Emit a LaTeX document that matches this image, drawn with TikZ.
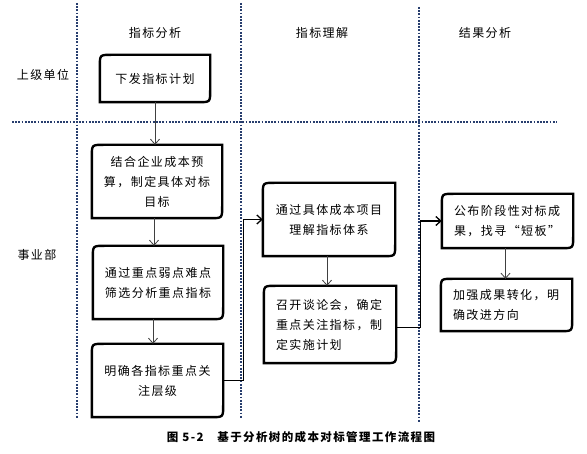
\documentclass[tikz,border=0pt]{standalone}
\usepackage{fontspec}
\setmainfont{Noto Sans CJK SC}[LetterSpace=12]
\usetikzlibrary{arrows.meta}
\definecolor{lanecol}{RGB}{40,62,110}
\tikzset{
  lane/.style={color=lanecol,line width=2.2pt,dash pattern=on 1.8pt off 1.4pt},
  label/.style={font=\fontsize{12}{16}\selectfont},
  flowbox/.style={inner sep=0pt,font=\fontsize{12}{20}\selectfont},
  boxline/.style={line width=2.4pt},
  flowarrow/.style={draw=black!75,line width=0.8pt,-{Straight Barb[length=5pt,width=9pt]}},
  bendarrow/.style={line width=1.3pt,-{Straight Barb[length=5pt,width=9pt]}},
}
\begin{document}
\begin{tikzpicture}[x=1pt,y=-1pt]
\useasboundingbox (0,0) rectangle (587,454);
% swim lanes
\draw[lane] (77,3)--(77,418);
\draw[lane] (241,3)--(241,418);
\draw[lane] (419,7)--(419,422);
\draw[lane] (12,122)--(557,122);
% headers
\node[label] (colA) at (155,33) {指标分析};
\node[label] (colB) at (322,33) {指标理解};
\node[label] (colC) at (485,33) {结果分析};
\node[label] (rowA) at (43,75) {上级单位};
\node[label] (rowB) at (37,255) {事业部};
% boxes
\node[flowbox,minimum width=110pt,minimum height=47pt] (plan) at (155,78.5) {下发指标计划};
\node[flowbox,minimum width=130pt,minimum height=73pt,align=center] (budget) at (157,181.5) {结合企业成本预\\算，制定具体对标\\目标};
\node[flowbox,minimum width=130pt,minimum height=73pt,align=center] (screen) at (158,282.5) {通过重点弱点难点\\筛选分析重点指标};
\node[flowbox,minimum width=131pt,minimum height=73pt,align=center] (level) at (157.5,380.5) {明确各指标重点关\\注层级};
\node[flowbox,minimum width=132pt,minimum height=73pt,align=center] (grasp) at (329,219.5) {通过具体成本项目\\理解指标体系};
\node[flowbox,minimum width=132pt,minimum height=77pt,text width=108pt,align=left] (meeting) at (330,324.5) {召开谈论会，确定\\重点关注指标，制\\定实施计划};
\node[flowbox,minimum width=131pt,minimum height=54pt,text width=107pt,align=left] (publish) at (507.5,221) {公布阶段性对标成\\果，找寻“短板”};
\node[flowbox,minimum width=131pt,minimum height=52pt,text width=107pt,align=left] (improve) at (506.5,305) {加强成果转化，明\\确改进方向};
\foreach \b in {plan,budget,screen,level,grasp,meeting,publish,improve}
  \draw[boxline] (\b.south west) -- ([yshift=-12pt]\b.north west) .. controls (\b.north west) .. ([xshift=12pt]\b.north west)
    -- (\b.north east) -- ([yshift=12pt]\b.south east) .. controls (\b.south east) .. ([xshift=-12pt]\b.south east) -- cycle;
% arrows
\draw[flowarrow] (plan.south) -- (plan.south |- budget.north);
\draw[flowarrow] ([xshift=-3pt]budget.south) -- ([xshift=-3pt]budget.south |- screen.north);
\draw[flowarrow] ([xshift=-5pt]screen.south) -- ([xshift=-5pt]screen.south |- level.north);
\draw[flowarrow] ([xshift=-2pt]grasp.south) -- ([xshift=-2pt]grasp.south |- meeting.north);
\draw[flowarrow] ([xshift=-2pt]publish.south) -- ([xshift=-2pt]publish.south |- improve.north);
\draw[bendarrow] (level.east) -- ++(20,0) |- (grasp.west);
\draw[bendarrow] ([yshift=-3pt]meeting.east) -- ++(24,0) |- (publish.west);
% caption
\node[font=\fontsize{11.5}{14}\selectfont\bfseries] (caption) at (301,437) {图 5-2\hspace{1.2em}基于分析树的成本对标管理工作流程图};
\end{tikzpicture}
\end{document}
